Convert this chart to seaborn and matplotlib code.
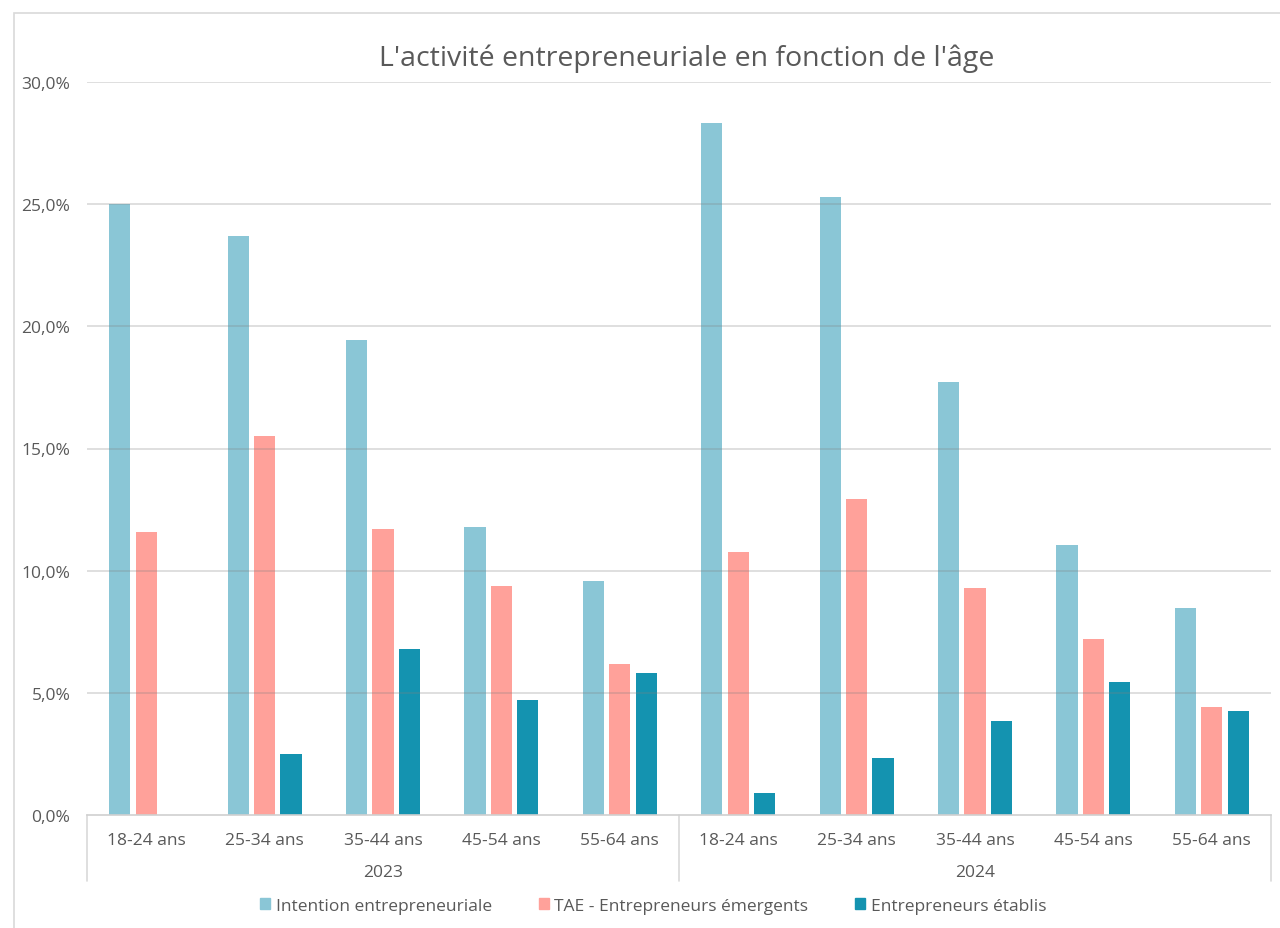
import matplotlib
matplotlib.use("Agg")
import matplotlib.pyplot as plt
import matplotlib.patches as mpatches
import matplotlib.transforms as mtransforms
import seaborn as sns
import pandas as pd

# Data (share of population, in %)
years = ["2023", "2024"]
age_groups = ["18-24 ans", "25-34 ans", "35-44 ans", "45-54 ans", "55-64 ans"]
series = ["Intention entrepreneuriale", "TAE - Entrepreneurs émergents", "Entrepreneurs établis"]

intention_2023 = [25.0, 23.7, 19.45, 11.8, 9.58]
tae_2023 = [11.58, 15.5, 11.7, 9.38, 6.18]
etablis_2023 = [0.0, 2.5, 6.8, 4.7, 5.8]

intention_2024 = [28.33, 25.3, 17.72, 11.05, 8.47]
tae_2024 = [10.77, 12.93, 9.29, 7.2, 4.42]
etablis_2024 = [0.9, 2.33, 3.85, 5.44, 4.26]

colors = ["#8AC6D6", "#FFA19A", "#1493B0"]
text_color = "#595959"
label_size = 12.5

rows = []
for year, vals in zip(years, [(intention_2023, tae_2023, etablis_2023),
                              (intention_2024, tae_2024, etablis_2024)]):
    for name, values in zip(series, vals):
        for age, v in zip(age_groups, values):
            rows.append({"cat": f"{year} {age}", "serie": name, "val": v / 100})
df = pd.DataFrame(rows)
order = [f"{y} {a}" for y in years for a in age_groups]

sns.set_theme(style="white")
plt.rcParams["font.family"] = ["Open Sans", "DejaVu Sans"]

fig = plt.figure(figsize=(12.8, 9.29), dpi=100)
ax = fig.add_axes([87 / 1280, 1 - 816 / 929, (1271 - 87) / 1280, (816 - 83) / 929])

sns.barplot(data=df, x="cat", y="val", hue="serie", order=order, hue_order=series,
            palette=colors, width=0.67, gap=0.2, ax=ax, legend=False, saturation=1,
            linewidth=0, zorder=2)

ax.set_xlim(-0.5, len(order) - 0.5)
ax.set_ylim(0, 0.30)
yt = [0, 0.05, 0.10, 0.15, 0.20, 0.25, 0.30]
ax.set_yticks(yt)
ax.set_yticklabels([f"{t*100:.1f}%".replace(".", ",") for t in yt],
                   color=text_color, fontsize=label_size)
for t in yt[1:]:
    ax.axhline(t, color="#808080", alpha=0.3, lw=1.2, zorder=3)
ax.tick_params(axis="y", length=0, pad=12)
ax.tick_params(axis="x", length=0, pad=12)
ax.set_xticks(range(len(order)))
ax.set_xticklabels([a for y in years for a in age_groups], color=text_color, fontsize=label_size)
ax.set_xlabel("")
ax.set_ylabel("")
for s in ["left", "right", "top"]:
    ax.spines[s].set_visible(False)
ax.spines["bottom"].set_color("#D0D0D0")
ax.spines["bottom"].set_linewidth(1.2)

# Grouped category axis: separators and year labels
trans = mtransforms.blended_transform_factory(ax.transData, ax.transAxes)
sep_bottom = -(882 - 816) / (816 - 83)
for xs in [-0.5, 4.5, 9.5]:
    ax.plot([xs, xs], [0, sep_bottom], transform=trans, color="#D9D9D9", lw=1.2, clip_on=False)
year_y = -(873 - 816) / (816 - 83)
for i, y in enumerate(years):
    ax.text(2 + 5 * i, year_y, y, transform=trans, ha="center", va="center",
            color=text_color, fontsize=label_size)

fig.text(687 / 1280, 1 - 59 / 929, "L'activité entrepreneuriale en fonction de l'âge",
         ha="center", va="center", fontsize=20.5, color=text_color)

handles = [mpatches.Patch(color=c, label=s) for c, s in zip(colors, series)]
fig.legend(handles=handles, loc="center", bbox_to_anchor=(653 / 1280, 1 - 907 / 929),
           ncol=3, frameon=False, fontsize=label_size, handlelength=0.6, handleheight=0.6,
           handletextpad=0.3, columnspacing=2.7, labelcolor=text_color)

# Chart frame
fig.patches.append(mpatches.Rectangle((14 / 1280, -0.1), 1.2, 1 - 14 / 929 + 0.1,
                                      transform=fig.transFigure, fill=False,
                                      edgecolor="#D9D9D9", lw=1.2))

fig.savefig("out.png", dpi=100)
